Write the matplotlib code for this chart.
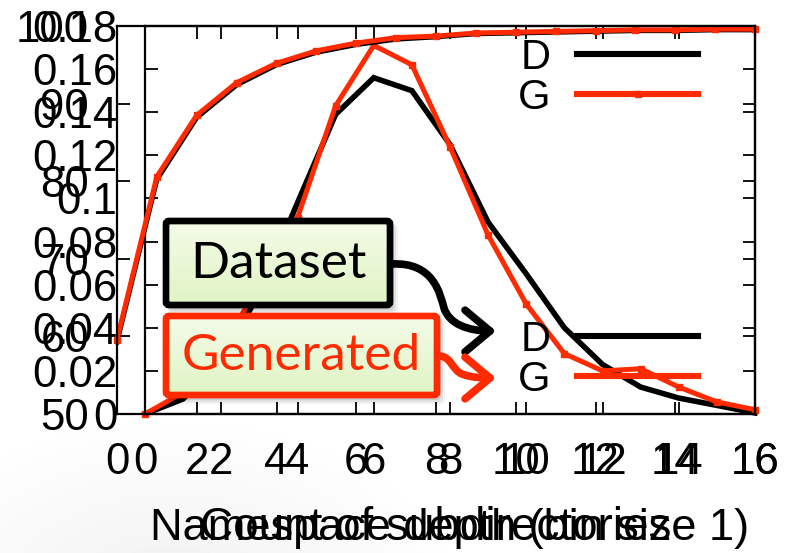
import numpy as np
import matplotlib.pyplot as plt
from matplotlib.colors import LinearSegmentedColormap
from matplotlib.lines import Line2D
from matplotlib.patches import FancyArrowPatch, FancyBboxPatch
from matplotlib.path import Path

W, H = 799, 553
RED = "#ff2a00"
INK = "#000000"
TICK_FONT = "Liberation Sans"
BOX_FONT = "Lato"

# ---------------------------------------------------------------- data
# chart underneath: cumulative % of directories by subdirectory count
subdir_count = list(range(17))
cdf_dataset = [59.3, 80.2, 88.2, 92.4, 95.0, 96.6, 97.6, 98.3, 98.6, 99.0,
               99.1, 99.2, 99.3, 99.4, 99.4, 99.5, 99.5]
cdf_generated = [59.6, 80.6, 88.5, 92.7, 95.2, 96.8, 97.8, 98.5, 98.7, 99.1,
                 99.2, 99.3, 99.4, 99.5, 99.5, 99.6, 99.6]

# chart on top: fraction of directories by namespace depth
depth = list(range(17))
depth_dataset = [0.0, 0.007, 0.025, 0.056, 0.098, 0.139, 0.156, 0.150, 0.125,
                 0.089, 0.065, 0.040, 0.023, 0.0125, 0.0074, 0.004, 0.0005]
depth_generated = [0.0, 0.010, 0.030, 0.060, 0.091, 0.143, 0.171, 0.162, 0.124,
                   0.083, 0.051, 0.028, 0.020, 0.021, 0.0125, 0.0056, 0.002]

x_ticks = list(range(0, 17, 2))
cdf_ticks = [50, 60, 70, 80, 90, 100]
frac_ticks = [0, 0.02, 0.04, 0.06, 0.08, 0.10, 0.12, 0.14, 0.16, 0.18]
frac_labels = ["0", "0.02", "0.04", "0.06", "0.08", "0.1", "0.12", "0.14", "0.16", "0.18"]


def rect(x0, y0, x1, y1):
    """pixel box (top-left origin) -> figure fraction rect"""
    return [x0 / W, 1 - y1 / H, (x1 - x0) / W, (y1 - y0) / H]


def style_axes(ax):
    ax.tick_params(direction="in", length=9, width=1.3, top=True, right=True,
                   labelsize=31.5, pad=20)
    for s in ax.spines.values():
        s.set_linewidth(1.6)
    for lab in ax.get_xticklabels() + ax.get_yticklabels():
        lab.set_family(TICK_FONT)


fig = plt.figure(figsize=(W / 100, H / 100), dpi=100)

# faint slide shadow bottom-left
bg = fig.add_axes([0, 0, 1, 1], zorder=-10)
yy, xx = np.mgrid[0:H, 0:W]
r = np.hypot((xx - 170) / 1.6, yy - 600)
shade = 1 - 0.06 * np.clip(1 - r / 190, 0, 1)
bg.imshow(shade, cmap="gray", vmin=0, vmax=1, extent=(0, W, H, 0), aspect="auto")
bg.set_xlim(0, W)
bg.set_ylim(H, 0)
bg.axis("off")

# ------------------------------------------------ namespace depth chart
axB = fig.add_axes(rect(145, 26, 755, 414), zorder=1)
axB.plot(depth, depth_dataset, color=INK, lw=4.0, clip_on=False, solid_joinstyle="miter")
axB.plot(depth, depth_generated, color=RED, lw=3.6, marker="s", ms=4,
         clip_on=False, solid_joinstyle="miter")
axB.set_xlim(0, 16)
axB.set_ylim(0, 0.18)
axB.set_xticks(x_ticks)
axB.set_yticks(frac_ticks)
axB.set_yticklabels(frac_labels)
axB.set_xlabel("Namespace depth (bin size 1)", fontsize=32.5, family=TICK_FONT, labelpad=18)
style_axes(axB)
axB.legend(
    [Line2D([], [], color=INK, lw=4.4), Line2D([], [], color=RED, lw=4.4)],
    ["D", "G"], loc="center", bbox_to_anchor=(608 / W, 1 - 360 / H),
    bbox_transform=fig.transFigure, markerfirst=False, frameon=False,
    prop={"family": TICK_FONT, "size": 30}, handlelength=2.9,
    handletextpad=0.65, labelspacing=0.0, borderpad=0)

# ---------------------------------------------- subdirectory count chart
axA = fig.add_axes(rect(117, 26, 755, 414), zorder=2)
axA.patch.set_alpha(0)
axA.plot(subdir_count, cdf_dataset, color=INK, lw=3.6, clip_on=False)
axA.plot(subdir_count, cdf_generated, color=RED, lw=3.6, marker="s", ms=4, clip_on=False)
axA.set_xlim(0, 16)
axA.set_ylim(50, 100)
axA.set_xticks(x_ticks)
axA.set_yticks(cdf_ticks)
axA.set_xlabel("Count of subdirectories", fontsize=33, family=TICK_FONT, labelpad=17)
style_axes(axA)
axA.legend(
    [Line2D([], [], color=INK, lw=4.4),
     Line2D([], [], color=RED, lw=4.4, marker="s", ms=5)],
    ["D", "G"], loc="center", bbox_to_anchor=(608 / W, 1 - 78 / H),
    bbox_transform=fig.transFigure, markerfirst=False, frameon=False,
    prop={"family": TICK_FONT, "size": 30}, handlelength=2.9,
    handletextpad=0.65, labelspacing=0.0, borderpad=0)

# ------------------------------------------------------------ callouts
ov = fig.add_axes([0, 0, 1, 1], zorder=5)
ov.set_xlim(0, W)
ov.set_ylim(H, 0)
ov.axis("off")
green = LinearSegmentedColormap.from_list("g", ["#f4fbe8", "#e0f4c4"])


def callout(x0, y0, x1, y1, edge, text, tcolor):
    for k, a in ((8, 0.05), (6, 0.07), (4, 0.09)):
        ov.add_patch(FancyBboxPatch((x0 + 2, y0 + 3), x1 - x0 + k - 2, y1 - y0 + k - 2,
                                    boxstyle="round,pad=0,rounding_size=5",
                                    fc="#000000", ec="none", alpha=a, zorder=1))
    im = ov.imshow(np.linspace(0, 1, 64)[:, None], cmap=green, extent=(x0, x1, y1, y0),
                   aspect="auto", origin="upper", zorder=2)
    im.set_clip_path(FancyBboxPatch((x0, y0), x1 - x0, y1 - y0,
                                    boxstyle="round,pad=0,rounding_size=3",
                                    transform=ov.transData))
    ov.add_patch(FancyBboxPatch((x0, y0), x1 - x0, y1 - y0,
                                boxstyle="round,pad=0,rounding_size=3",
                                fc="none", ec=edge, lw=4.8, zorder=3))
    ov.text((x0 + x1) / 2, (y0 + y1) / 2 + 1, text, fontsize=37, family=BOX_FONT,
            color=tcolor, ha="center", va="center", zorder=4)


callout(166, 221, 390, 305, INK, "Dataset", INK)
callout(166, 316, 437, 395, RED, "Generated", RED)

arrows = [
    ([(392, 264), (434, 262), (440, 294), (444, 308), (449, 324), (468, 331), (496, 331)], INK),
    ([(439, 356), (451, 356), (452, 370), (462, 374), (472, 378), (484, 378), (496, 378)], RED),
]
for verts, col in arrows:
    codes = [Path.MOVETO] + [Path.CURVE4] * 6
    ov.add_patch(FancyArrowPatch(path=Path(verts, codes),
                                 arrowstyle="->,head_length=0.6,head_width=0.5",
                                 mutation_scale=30, color=col, lw=5.5, capstyle="round",
                                 joinstyle="round", zorder=5))
ov.set_xlim(0, W)
ov.set_ylim(H, 0)

fig.savefig("out.png", dpi=100)
